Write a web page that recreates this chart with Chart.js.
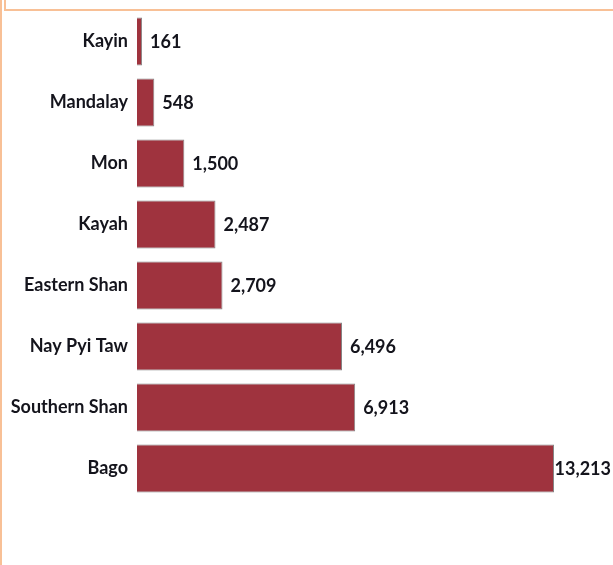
<!DOCTYPE html>
<html>
<head>
<meta charset="utf-8">
<script src="https://cdn.jsdelivr.net/npm/chart.js@4"></script>
<style>
  html, body { margin: 0; padding: 0; background: #fff; }
  #wrap { width: 613px; height: 565px; }
</style>
</head>
<body>
<div id="wrap"><canvas id="c" width="613" height="565"></canvas></div>
<script>
const regions = ['Kayin', 'Mandalay', 'Mon', 'Kayah', 'Eastern Shan', 'Nay Pyi Taw', 'Southern Shan', 'Bago'];
const values = [161, 548, 1500, 2487, 2709, 6496, 6913, 13213];

const FONT = "Lato, 'Open Sans', sans-serif";

// orange frame lines around the plot
const framePlugin = {
  id: 'frame',
  beforeDraw(chart) {
    const ctx = chart.ctx;
    ctx.save();
    ctx.strokeStyle = '#f8c096';
    ctx.lineWidth = 2;
    ctx.beginPath();
    ctx.moveTo(1, 0); ctx.lineTo(1, chart.height);
    ctx.moveTo(5, 0); ctx.lineTo(5, 10);
    ctx.moveTo(4, 10); ctx.lineTo(chart.width, 10);
    ctx.stroke();
    ctx.restore();
  }
};

// value labels at bar ends
const valuePlugin = {
  id: 'values',
  afterDatasetsDraw(chart) {
    const ctx = chart.ctx;
    const meta = chart.getDatasetMeta(0);
    ctx.save();
    ctx.font = 'bold 18px ' + FONT;
    ctx.fillStyle = '#14141c';
    ctx.textBaseline = 'middle';
    meta.data.forEach((bar, i) => {
      const txt = values[i].toLocaleString('en-US');
      const w = ctx.measureText(txt).width;
      const x = Math.min(bar.x + 8, chart.width - w - 2);
      ctx.fillText(txt, x, bar.y + 1);
    });
    ctx.restore();
  }
};

new Chart(document.getElementById('c'), {
  type: 'bar',
  data: {
    labels: regions,
    datasets: [{
      data: values,
      backgroundColor: '#9f333e',
      borderColor: '#858585',
      borderWidth: 1,
      categoryPercentage: 0.79,
      barPercentage: 1
    }]
  },
  options: {
    indexAxis: 'y',
    responsive: false,
    animation: false,
    layout: { padding: { top: 11, bottom: 66, left: 0, right: 59 } },
    plugins: { legend: { display: false }, tooltip: { enabled: false } },
    scales: {
      x: {
        display: false,
        min: 0,
        max: 13213
      },
      y: {
        afterFit(scale) {
          scale.width = 137;
          scale.paddingTop = 0;
          scale.paddingBottom = 0;
        },
        grid: { display: false, drawTicks: false },
        border: { display: false },
        ticks: {
          padding: 9,
          color: '#14141c',
          font: { family: FONT, size: 18, weight: 'bold' }
        }
      }
    }
  },
  plugins: [framePlugin, valuePlugin]
});
</script>
</body>
</html>
